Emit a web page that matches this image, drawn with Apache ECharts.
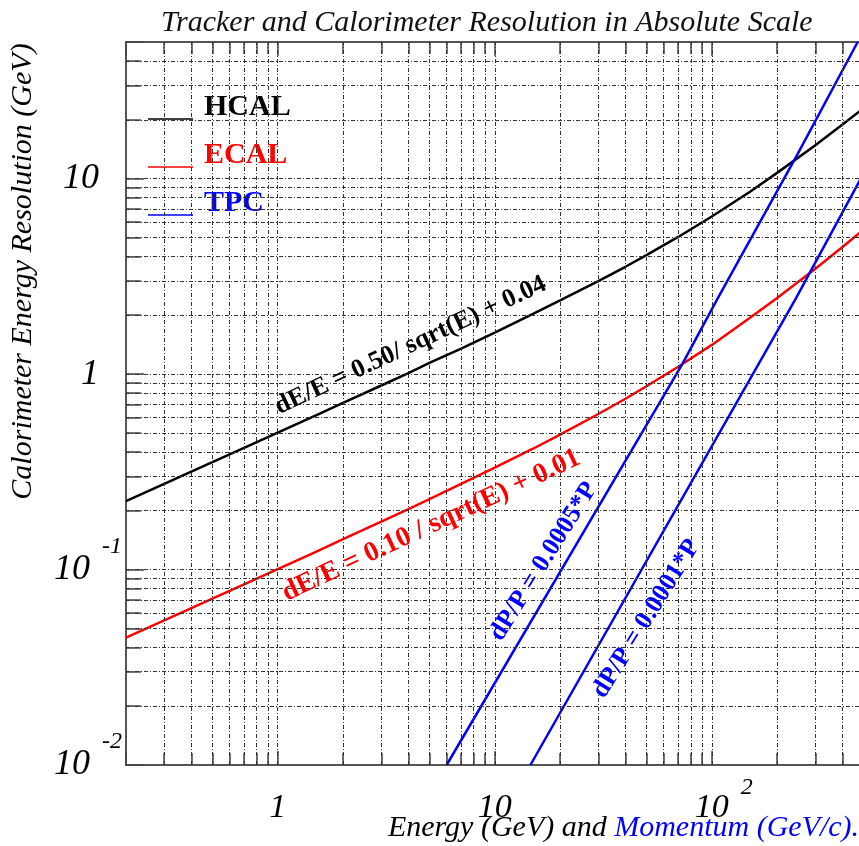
<!DOCTYPE html>
<html>
<head>
<meta charset="utf-8">
<title>Tracker and Calorimeter Resolution</title>
<script src="https://cdn.jsdelivr.net/npm/echarts@6/dist/echarts.min.js"></script>
<style>
html, body { margin: 0; padding: 0; background: #fff; }
#myChart { width: 859px; height: 846px; }
</style>
</head>
<body>
<div id="myChart"></div>
<script>
// energy points (GeV) and resolutions (GeV)
const energy = [0.2, 0.3, 0.4, 0.5, 0.7, 1, 1.5, 2, 3, 4, 5, 7, 10, 15, 20, 30, 40, 50, 70, 100, 150, 200, 300, 400, 500]
const hcalRes = [0.224, 0.274, 0.317, 0.354, 0.419, 0.502, 0.615, 0.712, 0.874, 1.01, 1.14, 1.35, 1.63, 2.03, 2.38, 2.99, 3.54, 4.06, 5.03, 6.40, 8.57, 10.7, 14.8, 18.9, 22.9]
const ecalRes = [0.0448, 0.0549, 0.0634, 0.0709, 0.084, 0.1005, 0.123, 0.143, 0.176, 0.204, 0.229, 0.274, 0.332, 0.415, 0.490, 0.625, 0.748, 0.866, 1.09, 1.41, 1.94, 2.45, 3.46, 4.47, 5.48]
// TPC momentum points (GeV/c) and resolutions
const tpc1P = [6.0, 73, 106, 247, 470]
const tpc1Res = [0.01, 1.12, 2.42, 13.2, 50]
const tpc2P = [14.6, 243, 500]
const tpc2Res = [0.01, 2.42, 10.6]

// tick labels
const xTickVals = [1, 10, 100]
const xTickBase = ['1', '10', '10']
const xTickExp = ['', '', '2']
const yTickVals = [0.01, 0.1, 1, 10]
const yTickBase = ['10', '10', '1', '10']
const yTickExp = ['-2', '-1', '', '']

// dashed grid lines
const xGrid = [0.3, 0.4, 0.5, 0.6, 0.7, 0.8, 0.9, 1, 2, 3, 4, 5, 6, 7, 8, 9, 10, 20, 30, 40, 50, 60, 70, 80, 90, 100, 200, 300, 400, 500]
const yGrid = [0.02, 0.03, 0.04, 0.05, 0.06, 0.07, 0.08, 0.09, 0.1, 0.2, 0.3, 0.4, 0.5, 0.6, 0.7, 0.8, 0.9, 1, 2, 3, 4, 5, 6, 7, 8, 9, 10, 20, 30, 40]

const serif = 'Liberation Serif'

function findTick(vals, v) {
  for (let i = 0; i < vals.length; i++) {
    if (Math.abs(Math.log10(v) - Math.log10(vals[i])) < 1e-6) return i
  }
  return -1
}

function zip(a, b) {
  return a.map((v, i) => [v, b[i]])
}

function curveLabel(text, at, rotate, color, size) {
  return {
    symbol: 'circle',
    symbolSize: 1,
    itemStyle: { color: 'rgba(0,0,0,0)' },
    silent: true,
    label: {
      show: true,
      position: 'inside',
      formatter: text,
      rotate: rotate,
      color: color,
      fontFamily: serif,
      fontWeight: 'bold',
      fontSize: size,
    },
    data: [{ coord: at }],
  }
}

const tickStyle = { color: '#444', width: 1.5 }

let myChart = echarts.init(document.getElementById('myChart'))
myChart.setOption({
  animation: false,
  title: {
    text: 'Tracker and Calorimeter Resolution in Absolute Scale',
    left: 161,
    top: 8,
    padding: 0,
    textStyle: { fontFamily: serif, fontStyle: 'italic', fontWeight: 'normal', fontSize: 30, color: '#111' },
  },
  legend: {
    orient: 'vertical',
    left: 148,
    top: 92,
    padding: 0,
    itemGap: -6,
    itemWidth: 45,
    itemHeight: 1.5,
    icon: 'rect',
    data: [
      { name: 'HCAL', textStyle: { color: '#000' } },
      { name: 'ECAL', textStyle: { color: '#ff0000' } },
      { name: 'TPC', textStyle: { color: '#0000ff' } },
    ],
    formatter: (name) => '{t|' + name + '}',
    textStyle: {
      fontFamily: serif,
      fontWeight: 'bold',
      fontSize: 30,
      rich: {
        t: { fontFamily: serif, fontWeight: 'bold', fontSize: 30, lineHeight: 26, padding: [0, 0, 24, 6] },
      },
    },
  },
  grid: {
    left: 126,
    right: -10,
    top: 42,
    bottom: 81,
    show: true,
    borderColor: '#555',
    borderWidth: 2,
    outerBoundsMode: 'none',
  },
  xAxis: [
    {
      type: 'log',
      min: 0.2,
      max: 530,
      axisLine: { show: false },
      axisTick: { show: true, inside: true, length: 14, lineStyle: tickStyle },
      minorTick: { show: true, splitNumber: 9, length: 12, lineStyle: tickStyle },
      splitLine: { show: false },
      axisLabel: {
        margin: 17,
        formatter: function (v) {
          let i = findTick(xTickVals, v)
          if (i < 0) return ''
          if (xTickExp[i]) return '{bx|' + xTickBase[i] + '}{e|' + xTickExp[i] + '}'
          return '{b|' + xTickBase[i] + '}'
        },
        rich: {
          b: { fontFamily: serif, fontStyle: 'italic', fontSize: 34, lineHeight: 34, color: '#000', padding: [18, 0, 0, 0] },
          bx: { fontFamily: serif, fontStyle: 'italic', fontSize: 34, lineHeight: 34, color: '#000', padding: [18, 0, 0, 24] },
          e: { fontFamily: serif, fontStyle: 'italic', fontSize: 24, lineHeight: 24, color: '#000', padding: [3, 0, 25, 12] },
        },
      },
      name: '{k|Energy (GeV) and }{m|Momentum (GeV/c).}',
      nameLocation: 'middle',
      nameGap: 48,
      nameMoveOverlap: false,
      nameTextStyle: {
        padding: [0, 0, 0, 252],
        rich: {
          k: { fontFamily: serif, fontStyle: 'italic', fontSize: 30, color: '#000' },
          m: { fontFamily: serif, fontStyle: 'italic', fontSize: 30, color: '#0000ff' },
        },
      },
    },
    {
      // top frame ticks
      type: 'log',
      position: 'top',
      min: 0.2,
      max: 530,
      axisLine: { show: false },
      axisTick: { show: true, inside: true, length: 14, lineStyle: tickStyle },
      minorTick: { show: true, splitNumber: 9, length: 12, lineStyle: tickStyle },
      splitLine: { show: false },
      axisLabel: { show: false },
    },
  ],
  yAxis: {
    type: 'log',
    min: 0.01,
    max: 50,
    axisLine: { show: false },
    axisTick: { show: true, inside: true, length: 18, lineStyle: tickStyle },
    minorTick: { show: true, splitNumber: 9, length: 15, lineStyle: tickStyle },
    splitLine: { show: false },
    axisLabel: {
      margin: 4,
      formatter: function (v) {
        let i = findTick(yTickVals, v)
        if (i < 0) return ''
        if (yTickExp[i]) return '{b|' + yTickBase[i] + '}{e|' + yTickExp[i] + '}'
        return '{bp|' + yTickBase[i] + '}'
      },
      rich: {
        b: { fontFamily: serif, fontStyle: 'italic', fontSize: 36, lineHeight: 36, color: '#000', padding: [20, 0, 20, 0] },
        bp: { fontFamily: serif, fontStyle: 'italic', fontSize: 36, lineHeight: 36, color: '#000', padding: [20, 23, 20, 0] },
        e: { fontFamily: serif, fontStyle: 'italic', fontSize: 24, lineHeight: 24, color: '#000', padding: [3, 0, 49, 12] },
      },
    },
    name: 'Calorimeter Energy Resolution (GeV)',
    nameLocation: 'middle',
    nameGap: 88,
    nameMoveOverlap: false,
    nameTextStyle: {
      fontFamily: serif,
      fontStyle: 'italic',
      fontSize: 30,
      color: '#000',
      padding: [0, 0, 0, 264],
    },
  },
  series: [
    {
      // dashed grid, drawn on the axes' scales
      type: 'line',
      name: 'grid',
      data: [],
      z: 1,
      silent: true,
      markLine: {
        silent: true,
        symbol: 'none',
        animation: false,
        label: { show: false },
        lineStyle: { color: '#333', width: 1, type: [4, 2, 1, 2] },
        data: xGrid.map((v) => ({ xAxis: v })).concat(yGrid.map((v) => ({ yAxis: v }))),
      },
    },
    {
      type: 'line',
      name: 'HCAL',
      z: 3,
      data: zip(energy, hcalRes),
      symbol: 'none',
      itemStyle: { color: '#000' },
      lineStyle: { color: '#000', width: 2.5 },
      markPoint: curveLabel('dE/E = 0.50/ sqrt(E) + 0.04', [4.1, 1.40], 25, '#000', 26),
    },
    {
      type: 'line',
      name: 'ECAL',
      z: 3,
      data: zip(energy, ecalRes),
      symbol: 'none',
      itemStyle: { color: '#ff0000' },
      lineStyle: { color: '#ff0000', width: 2.5 },
      markPoint: curveLabel('dE/E = 0.10 / sqrt(E) + 0.01', [5.1, 0.168], 25, '#ff0000', 28),
    },
    {
      type: 'line',
      name: 'TPC',
      z: 3,
      data: zip(tpc1P, tpc1Res),
      symbol: 'none',
      itemStyle: { color: '#0000ff' },
      lineStyle: { color: '#0000ff', width: 2.5 },
      markPoint: curveLabel('dP/P = 0.0005*P', [16.8, 0.11], 58, '#0000ff', 26),
    },
    {
      type: 'line',
      name: 'TPC',
      z: 3,
      data: zip(tpc2P, tpc2Res),
      symbol: 'none',
      itemStyle: { color: '#0000ff' },
      lineStyle: { color: '#0000ff', width: 2.5 },
      markPoint: curveLabel('dP/P = 0.0001*P', [50, 0.056], 58, '#0000ff', 26),
    },
  ],
})
</script>
</body>
</html>
